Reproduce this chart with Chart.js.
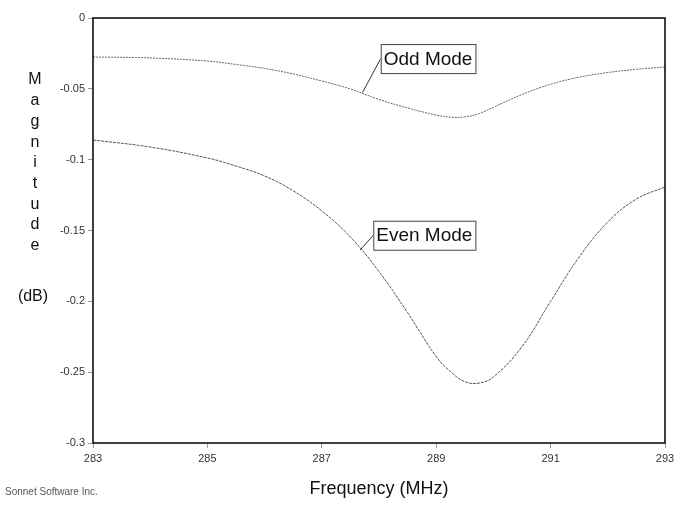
<!DOCTYPE html>
<html lang="en">
<head>
    <meta charset="UTF-8">
    <title>Odd / Even Mode Magnitude</title>
    <script src="https://cdn.jsdelivr.net/npm/chart.js"></script>
    <style>
        body {
            margin: 0;
            padding: 0;
            background-color: #ffffff;
        }
        .chart-container {
            width: 675px;
            height: 506px;
        }
    </style>
</head>
<body>
    <div class="chart-container">
        <canvas id="modeChart" width="675" height="506"></canvas>
    </div>
    <script>
        // frequency points (MHz)
        const freqs = [283, 284, 285, 285.5, 286, 286.5, 287, 287.5, 288, 288.5, 289, 289.25, 289.5, 289.75, 290, 290.5, 291, 291.5, 292, 292.5, 293];
        // magnitude (dB)
        const oddMode = [-0.0275, -0.0282, -0.0304, -0.0328, -0.0356, -0.0395, -0.0445, -0.0501, -0.0575, -0.0635, -0.0685, -0.0700, -0.0698, -0.0675, -0.0630, -0.0540, -0.0468, -0.0418, -0.0385, -0.0362, -0.0346];
        const evenMode = [-0.0861, -0.0911, -0.0988, -0.1045, -0.1115, -0.1220, -0.1362, -0.1546, -0.1790, -0.2080, -0.2390, -0.2496, -0.2567, -0.2577, -0.2534, -0.2320, -0.2000, -0.1687, -0.1440, -0.1278, -0.1193];
        const seriesNames = ['Odd Mode', 'Even Mode'];
        const xTicks = [283, 285, 287, 289, 291, 293];
        const yLabel = ['M', 'a', 'g', 'n', 'i', 't', 'u', 'd', 'e'];

        const toPoints = (ys) => freqs.map((f, i) => ({ x: f, y: ys[i] }));

        // box around the plot area, labels and callouts
        const decorPlugin = {
            id: 'decor',
            afterDraw(chart) {
                const ctx = chart.ctx;
                const area = chart.chartArea;
                const xs = chart.scales.x;
                const ys = chart.scales.y;
                ctx.save();
                ctx.strokeStyle = '#000';
                ctx.lineWidth = 1.5;
                ctx.strokeRect(area.left, area.top, area.right - area.left, area.bottom - area.top);

                // callouts
                const callouts = chart.options.plugins.decor.callouts;
                ctx.font = '19px "Liberation Sans", Arial, sans-serif';
                ctx.textBaseline = 'middle';
                ctx.textAlign = 'left';
                callouts.forEach(c => {
                    const bx = xs.getPixelForValue(c.boxX);
                    const by = ys.getPixelForValue(c.boxY);
                    const w = ctx.measureText(c.text).width + 6;
                    const h = 29;
                    const ax = xs.getPixelForValue(c.atX);
                    const ay = ys.getPixelForValue(c.atY);
                    ctx.strokeStyle = '#333';
                    ctx.lineWidth = 1;
                    ctx.beginPath();
                    ctx.moveTo(bx, by + h / 2);
                    ctx.lineTo(ax, ay);
                    ctx.stroke();
                    ctx.fillStyle = '#fff';
                    ctx.fillRect(bx, by, w, h);
                    ctx.strokeStyle = '#444';
                    ctx.strokeRect(bx + 0.5, by + 0.5, w, h);
                    ctx.fillStyle = '#111';
                    ctx.fillText(c.text, bx + 3, by + h / 2 + 1);
                });

                // vertical y label
                ctx.fillStyle = '#111';
                ctx.textAlign = 'center';
                ctx.font = '16px "Liberation Sans", Arial, sans-serif';
                yLabel.forEach((ch, i) => {
                    ctx.fillText(ch, 35, 80 + i * 20.7);
                });
                ctx.fillText('(dB)', 33, 297);

                // footer
                ctx.textAlign = 'left';
                ctx.fillStyle = '#555';
                ctx.font = '10px "Liberation Sans", Arial, sans-serif';
                ctx.fillText('Sonnet Software Inc.', 5, 492);
                ctx.restore();
            }
        };

        const ctxMode = document.getElementById('modeChart').getContext('2d');
        new Chart(ctxMode, {
            type: 'line',
            data: {
                datasets: [{
                    label: seriesNames[0],
                    data: toPoints(oddMode),
                    borderColor: '#666',
                    borderWidth: 1,
                    borderDash: [2, 1],
                    pointRadius: 0,
                    tension: 0.4,
                    fill: false,
                }, {
                    label: seriesNames[1],
                    data: toPoints(evenMode),
                    borderColor: '#555',
                    borderWidth: 1,
                    borderDash: [3, 1],
                    pointRadius: 0,
                    tension: 0.4,
                    fill: false,
                }]
            },
            options: {
                responsive: false,
                animation: false,
                layout: {
                    padding: { top: 18, right: 10, left: 0, bottom: 0 }
                },
                plugins: {
                    legend: { display: false },
                    tooltip: { enabled: false },
                    decor: {
                        callouts: [
                            { text: seriesNames[0], boxX: 288.03, boxY: -0.0184, atX: 287.71, atY: -0.0527 },
                            { text: seriesNames[1], boxX: 287.90, boxY: -0.1431, atX: 287.67, atY: -0.1638 }
                        ]
                    }
                },
                scales: {
                    x: {
                        type: 'linear',
                        min: 283,
                        max: 293,
                        afterBuildTicks(scale) {
                            scale.ticks = xTicks.map(v => ({ value: v }));
                        },
                        afterFit(scale) {
                            scale.height = 63;
                            scale.paddingRight = 0;
                            scale.paddingLeft = 0;
                        },
                        grid: {
                            drawOnChartArea: false,
                            drawTicks: true,
                            tickLength: 5,
                            color: '#999'
                        },
                        border: { display: false },
                        ticks: {
                            color: '#333',
                            padding: 4,
                            maxRotation: 0,
                            font: { family: '"Liberation Sans", Arial, sans-serif', size: 11 }
                        },
                        title: {
                            display: true,
                            text: 'Frequency (MHz)',
                            color: '#111',
                            padding: { top: 0, bottom: 6 },
                            font: { family: '"Liberation Sans", Arial, sans-serif', size: 18 }
                        }
                    },
                    y: {
                        min: -0.3,
                        max: 0,
                        afterFit(scale) {
                            scale.width = 93;
                        },
                        grid: {
                            drawOnChartArea: false,
                            drawTicks: true,
                            tickLength: 5,
                            color: '#999'
                        },
                        border: { display: false },
                        ticks: {
                            stepSize: 0.05,
                            color: '#333',
                            padding: 3,
                            font: { family: '"Liberation Sans", Arial, sans-serif', size: 11 },
                            callback: (v) => parseFloat(v.toFixed(2)).toString()
                        }
                    }
                }
            },
            plugins: [decorPlugin]
        });
    </script>
</body>
</html>
